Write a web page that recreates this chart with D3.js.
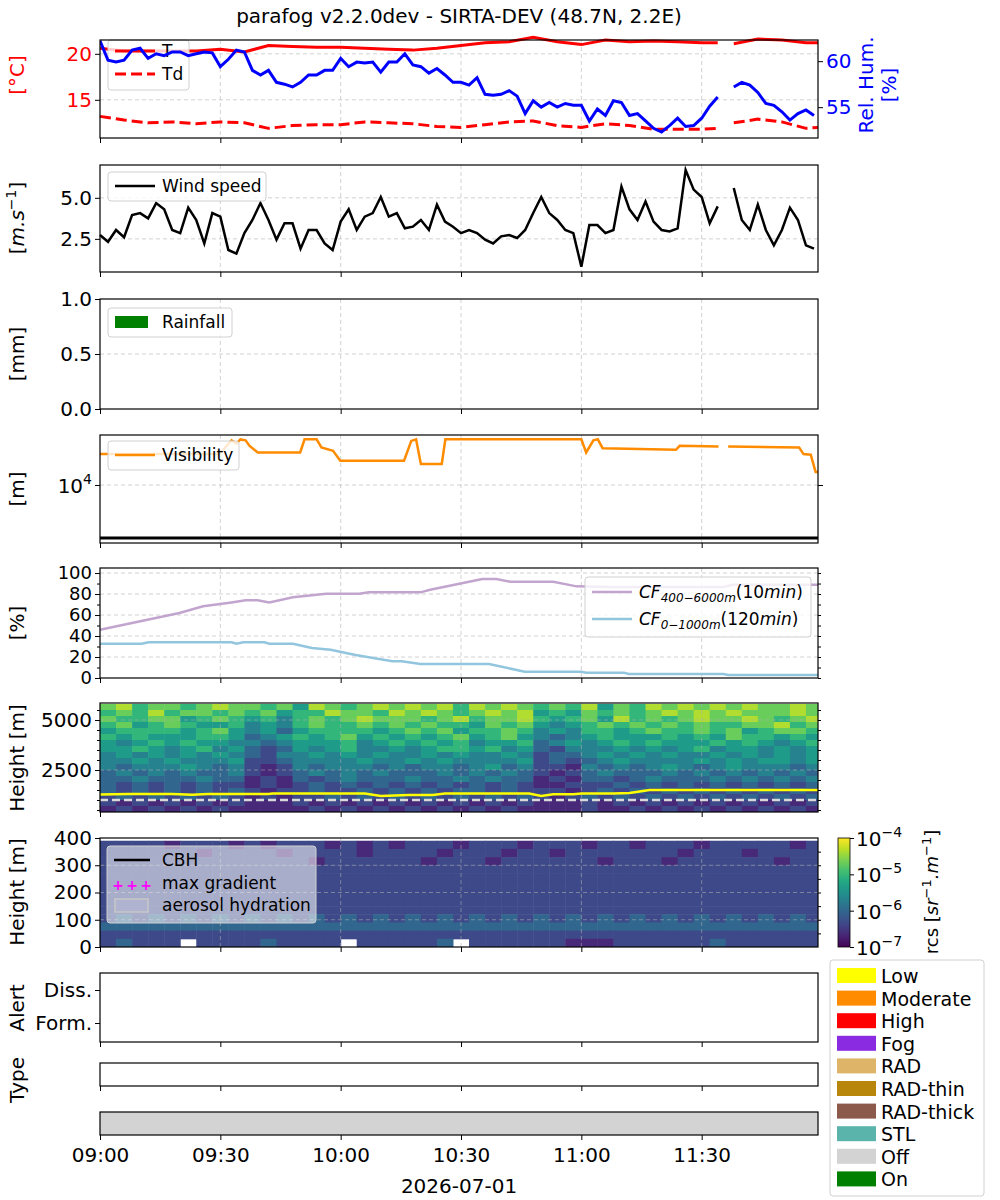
<!DOCTYPE html>
<html>
<head>
<meta charset="utf-8">
<script src="https://cdn.jsdelivr.net/npm/d3@7"></script>
<style>
  body { margin: 0; background: #fff; }
  text { font-family: "DejaVu Sans", sans-serif; }
</style>
</head>
<body>
<div id="chart"></div>
<script>
// time in minutes after 09:00
var tT = [0,6,12,18,24,30,36,42,48,54,60,66,72,78,84,90,96,102,108,114,120,126,132,138,144,150,154,156,158,164,170,176,179];
var temp = [20.6,20.3,20.3,20.3,20.3,20.5,20.2,20.9,20.8,20.7,20.7,20.6,20.5,20.4,20.6,20.9,21.2,21.3,21.8,21.3,21.0,21.5,21.3,21.4,21.3,21.2,21.2,null,21.1,21.6,21.5,21.2,21.2];
var dew = [13.2,12.8,12.5,12.6,12.4,12.6,12.5,11.9,12.2,12.3,12.3,12.6,12.5,12.4,12.1,12.0,12.3,12.6,12.7,12.2,12.0,12.4,12.2,11.8,11.8,11.8,11.9,null,12.5,12.9,12.6,11.9,12.0];
// 2-min samples
var rh = [62.2,60.1,59.9,60.1,61.2,61.4,60.3,60.8,60.6,61.0,61.0,60.6,60.8,61.0,60.9,59.4,60.2,61.2,61.0,59.0,
  58.5,59.0,57.7,57.5,57.2,57.7,58.5,58.5,59.0,59.0,60.3,59.4,59.9,59.8,59.9,58.8,59.9,59.9,60.8,59.6,
  59.4,58.7,59.2,58.5,57.7,57.7,57.4,58.2,56.4,56.3,56.4,56.8,56.2,54.3,55.7,55.0,55.5,55.0,55.4,55.2,
  55.2,53.5,54.8,54.1,55.7,55.5,54.1,54.3,53.5,52.7,52.3,53.0,53.8,52.9,53.0,53.8,55.1,56.1,null,57.2,
  57.7,57.4,56.6,55.4,55.2,54.5,53.6,54.3,54.7,54.1];
var wind = [2.73,2.32,3.04,2.6,3.95,4.07,3.75,4.68,4.3,3.04,2.85,4.4,3.65,2.22,4.07,3.85,1.82,1.6,2.85,3.65,
  4.68,3.65,2.45,3.45,3.45,1.9,3.04,3.04,2.22,1.82,3.55,4.3,3.04,3.85,4.07,5.05,3.85,4.07,3.14,3.24,
  3.65,3.04,4.58,3.55,3.24,2.85,3.04,2.85,2.45,2.22,2.65,2.73,2.55,3.04,4.07,5.05,4.07,3.65,3.04,2.85,
  0.8,3.34,3.34,2.85,3.04,5.68,4.3,3.65,4.78,3.55,3.04,2.95,3.14,6.7,5.5,5.05,3.45,4.48,null,5.6,
  3.65,3.04,4.58,3.04,2.1,3.04,4.4,3.65,2.1,1.9];
var tVis = [0,29.8,32.8,34,35,36.3,37.3,39.3,49.9,51,54,55.2,58.1,59.9,75.8,77.6,78.8,80,85.2,86.1,120,121.2,123,124.1,125.3,143.6,144.5,154.2,155.4,156.6,174.3,175.4,177.2,178.4,179];
var vis = [38300,38300,69700,60400,72400,69700,54700,41000,41000,72800,72800,51000,44200,28700,28700,67900,72800,24900,24900,72800,72800,41000,69700,72800,49400,46100,54700,53100,null,53100,51000,38300,37200,17600,17600];
var tCF1 = [0,19.8,25.7,32.8,36.3,39.3,42.2,48.1,56.4,58.7,64.6,67,79.9,82.3,90.5,95.3,98.8,102.3,113,118.8,127,155.4,157.7,179];
var cf1 = [46,61.9,68.3,72,74,74,72,77,80.3,80.3,80.3,81.6,81.6,84,90.5,94.3,94.3,91.7,91.7,87.3,86.7,86.7,88.9,88.9];
var tCF2 = [0,10.4,12.1,32.8,34,35.7,41,42.2,48.1,52.8,57.5,63.4,68.1,72.9,75.2,79.9,97,105.9,120,121.2,130.6,131.8,155.4,156.6,179];
var cf2 = [32.7,32.7,34,34,32.7,34,34,32.7,32.7,28.6,27,22.2,19,15.9,15.9,13.3,13.3,6,6,5.1,5.1,3.8,3.8,2.9,2.9];
var tCBH = [0,7,18,23,27,42,43,66,70,77,83,86,107,110,113,118,120,128,132,137,150,156,166,179];
var cbh = [1270,1300,1300,1260,1300,1300,1320,1320,1200,1250,1250,1320,1320,1200,1290,1290,1320,1320,1350,1500,1500,1500,1500,1500];
// backscatter levels (log10 rcs = -7 + 0.33*d, 0 = missing), 4-min columns
var rcsUpper = [ // rows 5500-5800 down to 400-700 (300 m bins)
  "786776787 767587678 787868787 676857687 878787787",
  "676867767 675668776 878767878 565767678 787877787",
  "766775676 564676787 776786778 656758676 787787678",
  "675676556 454676676 767665767 545676767 676677867",
  "566665675 453566665 676756676 454665676 676756776",
  "656555665 345656756 565675675 434565556 565766565",
  "545656554 434555645 656564556 345456565 556565456",
  "556545645 323545644 545665645 324445454 564554545",
  "454545454 324454545 445454454 233454545 445454545",
  "445454445 223444454 454544445 232345444 454545545",
  "434445434 212434443 434434534 221434345 434544434",
  "343434334 212343434 333434343 212343334 343434343",
  "334333433 121323433 343343433 121332343 334343434",
  "323232322 121232323 232323232 112223232 323232323",
  "323232323 212232232 323233232 221232323 232323232",
  "232323232 121223232 323232323 212323232 323232323",
  "212121212 111212121 212121212 111212121 212121212",
  "121212121 111121212 121212121 111211212 121212121"
];
var rcsLower = [ // rows 360-390 down to 0-30 (30 m bins)
  "222212221 212221212 122212221 222122122 212222212",
  "222222122 221222212 222122212 212222222 122212222",
  "222222222 222212222 221222122 222212221 222222122",
  "222222222 222222222 222222222 222222222 222222222",
  "222222222 222222222 222222222 222222222 222222222",
  "222222222 222222222 222222222 222222222 222222222",
  "222222222 222222222 222222222 222222222 222222222",
  "222222222 222222222 222222222 222222222 222222222",
  "222222222 222222222 222222222 222222222 222222222",
  "232323232 323232323 232323232 323232323 232323232",
  "333333333 333333333 333333333 333333333 333333333",
  "222222222 222222222 222222222 222222222 222222222",
  "232220222 232222022 222302222 221112222 223222222"
];
var xTicks = [0,30,60,90,120,150];
var xTickLabels = ["09:00","09:30","10:00","10:30","11:00","11:30"];
var legendNames = ["Low","Moderate","High","Fog","RAD","RAD-thin","RAD-thick","STL","Off","On"];
var legendColors = ["#ffff00","#ff8c00","#ff0000","#8a2be2","#deb568","#b8860b","#8b5a4b","#5ab4ac","#d3d3d3","#008000"];

var width = 1000, height = 1200;
var svg = d3.select("#chart").append("svg").attr("width", width).attr("height", height);
var x = d3.scaleLinear().domain([0, 179]).range([100, 818]);
var FS = 20, LFS = 17;

function frame(y0, y1, grid) {
  var g = svg.append("g");
  if (grid) {
    g.selectAll("line.gx").data(xTicks.slice(1)).enter().append("line")
      .attr("x1", function(d) { return x(d); }).attr("x2", function(d) { return x(d); })
      .attr("y1", y0).attr("y2", y1)
      .attr("stroke", "#b0b0b0").attr("stroke-width", 0.8).attr("stroke-dasharray", "4,3").attr("opacity", 0.7);
  }
  var ax = d3.axisBottom(x).tickValues(xTicks).tickSize(5).tickFormat("");
  svg.append("g").attr("transform", "translate(0," + y1 + ")").call(ax).call(clean);
  return g;
}
function border(y0, y1) {
  svg.append("rect").attr("x", 100).attr("y", y0).attr("width", 718).attr("height", y1 - y0)
    .attr("fill", "none").attr("stroke", "#000").attr("stroke-width", 1.2);
}
function clean(sel) {
  sel.select(".domain").remove();
  sel.selectAll("text").attr("font-size", FS).attr("font-family", "DejaVu Sans").attr("fill", "#000");
  sel.selectAll("line").attr("stroke", "#000");
}
function hgrid(g, y, vals) {
  g.selectAll(null).data(vals).enter().append("line")
    .attr("x1", 100).attr("x2", 818).attr("y1", function(d) { return y(d); }).attr("y2", function(d) { return y(d); })
    .attr("stroke", "#b0b0b0").attr("stroke-width", 0.8).attr("stroke-dasharray", "4,3").attr("opacity", 0.7);
}
function ylabel(txt, yc, xc, color) {
  return svg.append("text").attr("transform", "translate(" + xc + "," + yc + ") rotate(-90)")
    .attr("text-anchor", "middle").attr("font-size", FS).attr("fill", color || "#000").text(txt);
}
function legendBox(x0, y0, w, h, bg) {
  svg.append("rect").attr("x", x0).attr("y", y0).attr("width", w).attr("height", h).attr("rx", 3)
    .attr("fill", bg || "#fff").attr("fill-opacity", bg ? 0.55 : 0.8).attr("stroke", "#d0d0d0");
}
function mkLine(xv, yv, xs, ys) {
  var pts = xv.map(function(t, i) { return [t, yv[i]]; });
  return d3.line().defined(function(d) { return d[1] != null; })
    .x(function(d) { return xs(d[0]); }).y(function(d) { return ys(d[1]); })(pts);
}
var t2 = rh.map(function(d, i) { return i * 2; });

// title
svg.append("text").attr("x", 459).attr("y", 23).attr("text-anchor", "middle").attr("font-size", FS)
  .text("parafog v2.2.0dev - SIRTA-DEV (48.7N, 2.2E)");

// ---- panel 1: T / Td / RH
var p1 = [40, 138];
var yT = d3.scaleLinear().domain([10.85, 21.5]).range([p1[1], p1[0]]);
var yRH = d3.scaleLinear().domain([51.65, 62.3]).range([p1[1], p1[0]]);
var g1 = frame(p1[0], p1[1], true);
hgrid(g1, yT, [15, 20]);
svg.append("defs").append("clipPath").attr("id", "c1").append("rect").attr("x", 100).attr("y", p1[0]).attr("width", 718).attr("height", p1[1] - p1[0]);
svg.append("path").attr("d", mkLine(tT, temp, x, yT)).attr("fill", "none").attr("stroke", "#ff0000").attr("stroke-width", 3);
svg.append("path").attr("d", mkLine(tT, dew, x, yT)).attr("fill", "none").attr("stroke", "#ff0000").attr("stroke-width", 3).attr("stroke-dasharray", "11,5");
legendBox(108, 40, 81, 50);
svg.append("line").attr("x1", 115).attr("x2", 155).attr("y1", 51).attr("y2", 51).attr("stroke", "#ff0000").attr("stroke-width", 3);
svg.append("text").attr("x", 162).attr("y", 57).attr("font-size", LFS).text("T");
svg.append("line").attr("x1", 115).attr("x2", 155).attr("y1", 74).attr("y2", 74).attr("stroke", "#ff0000").attr("stroke-width", 3).attr("stroke-dasharray", "11,5");
svg.append("text").attr("x", 162).attr("y", 80).attr("font-size", LFS).text("Td");
svg.append("path").attr("d", mkLine(t2, rh, x, yRH)).attr("fill", "none").attr("stroke", "#0000ff").attr("stroke-width", 3).attr("clip-path", "url(#c1)");
svg.append("g").attr("transform", "translate(100,0)").call(d3.axisLeft(yT).tickValues([15, 20]).tickSize(5)).call(clean)
  .selectAll("text").attr("fill", "#ff0000");
svg.append("g").attr("transform", "translate(818,0)").call(d3.axisRight(yRH).tickValues([55, 60]).tickSize(5)).call(clean)
  .selectAll("text").attr("fill", "#0000ff");
border(p1[0], p1[1]);
ylabel("[°C]", 75, 24, "#ff0000");
ylabel("Rel. Hum.", 85, 873, "#0000ff");
ylabel("[%]", 85, 896, "#0000ff");

// ---- panel 2: wind
var p2 = [165, 272];
var yW = d3.scaleLinear().domain([0.48, 7.0]).range([p2[1], p2[0]]);
var g2 = frame(p2[0], p2[1], true);
hgrid(g2, yW, [2.5, 5.0]);
svg.append("path").attr("d", mkLine(t2, wind, x, yW)).attr("fill", "none").attr("stroke", "#000").attr("stroke-width", 2.5);
svg.append("g").attr("transform", "translate(100,0)").call(d3.axisLeft(yW).tickValues([2.5, 5.0]).tickFormat(d3.format(".1f")).tickSize(5)).call(clean);
border(p2[0], p2[1]);
legendBox(108, 172, 158, 29);
svg.append("line").attr("x1", 115).attr("x2", 155).attr("y1", 186).attr("y2", 186).attr("stroke", "#000").attr("stroke-width", 2.5);
svg.append("text").attr("x", 162).attr("y", 192).attr("font-size", LFS).text("Wind speed");
var wl = ylabel("", 218, 24);
wl.append("tspan").text("[");
wl.append("tspan").attr("font-style", "italic").text("m.s");
wl.append("tspan").attr("font-size", 14).attr("dy", -8).text("−1");
wl.append("tspan").attr("dy", 8).text("]");

// ---- panel 3: rain
var p3 = [299, 409];
var yR = d3.scaleLinear().domain([0, 1]).range([p3[1], p3[0]]);
var g3 = frame(p3[0], p3[1], true);
hgrid(g3, yR, [0.5]);
svg.append("g").attr("transform", "translate(100,0)").call(d3.axisLeft(yR).tickValues([0, 0.5, 1]).tickFormat(d3.format(".1f")).tickSize(5)).call(clean);
border(p3[0], p3[1]);
legendBox(108, 308, 124, 29);
svg.append("rect").attr("x", 115).attr("y", 316).attr("width", 33).attr("height", 12).attr("fill", "#008000");
svg.append("text").attr("x", 162).attr("y", 328).attr("font-size", LFS).text("Rainfall");
ylabel("[mm]", 354, 24);

// ---- panel 4: visibility
var p4 = [435, 543];
var yV = d3.scaleLog().domain([805, 87700]).range([p4[1], p4[0]]);
var g4 = frame(p4[0], p4[1], true);
hgrid(g4, yV, [10000]);
svg.append("line").attr("x1", 100).attr("x2", 818).attr("y1", yV(1000)).attr("y2", yV(1000)).attr("stroke", "#000").attr("stroke-width", 3);
svg.append("path").attr("d", mkLine(tVis, vis, x, yV)).attr("fill", "none").attr("stroke", "#ff8c00").attr("stroke-width", 2.5);
svg.append("g").attr("transform", "translate(100,0)").call(d3.axisLeft(yV).tickValues([10000]).tickFormat("").tickSize(5)).call(clean);
svg.append("g").attr("transform", "translate(818,0)").call(d3.axisRight(yV).tickValues([10000]).tickFormat("").tickSize(5)).call(clean);
var vt = svg.append("text").attr("x", 92).attr("y", yV(10000) + 8).attr("text-anchor", "end").attr("font-size", FS);
vt.append("tspan").text("10");
vt.append("tspan").attr("font-size", 14).attr("dy", -9).text("4");
border(p4[0], p4[1]);
legendBox(108, 441, 131, 29);
svg.append("line").attr("x1", 115).attr("x2", 155).attr("y1", 455).attr("y2", 455).attr("stroke", "#ff8c00").attr("stroke-width", 2.5);
svg.append("text").attr("x", 162).attr("y", 461).attr("font-size", LFS).text("Visibility");
ylabel("[m]", 489, 24);

// ---- panel 5: cloud fraction
var p5 = [568, 678];
var yC = d3.scaleLinear().domain([0, 104.8]).range([p5[1], p5[0]]);
var g5 = frame(p5[0], p5[1], true);
hgrid(g5, yC, [20, 40, 60, 80, 100]);
svg.append("path").attr("d", mkLine(tCF1, cf1, x, yC)).attr("fill", "none").attr("stroke", "#c2a5cf").attr("stroke-width", 2.5);
svg.append("path").attr("d", mkLine(tCF2, cf2, x, yC)).attr("fill", "none").attr("stroke", "#92c5de").attr("stroke-width", 2.5);
svg.append("g").attr("transform", "translate(100,0)").call(d3.axisLeft(yC).tickValues([0, 20, 40, 60, 80, 100]).tickSize(5)).call(clean)
  .selectAll("text").attr("font-size", 18);
svg.append("g").attr("transform", "translate(100,0)").call(d3.axisLeft(yC).tickValues([10, 30, 50, 70, 90]).tickFormat("").tickSize(3)).call(clean);
svg.append("g").attr("transform", "translate(818,0)").call(d3.axisRight(yC).tickValues([0, 10, 20, 30, 40, 50, 60, 70, 80, 90, 100]).tickFormat("").tickSize(3)).call(clean);
border(p5[0], p5[1]);
legendBox(585, 577, 226, 60);
function cfLabel(y, sub, win, color) {
  svg.append("line").attr("x1", 592).attr("x2", 632).attr("y1", y - 6).attr("y2", y - 6).attr("stroke", color).attr("stroke-width", 2.5);
  var t = svg.append("text").attr("x", 639).attr("y", y).attr("font-size", LFS);
  t.append("tspan").attr("font-style", "italic").text("CF");
  t.append("tspan").attr("font-style", "italic").attr("font-size", 12).attr("dy", 4).text(sub);
  t.append("tspan").attr("dy", -4).text("(" + win);
  t.append("tspan").attr("font-style", "italic").text("min");
  t.append("tspan").text(")");
}
cfLabel(598, "400−6000m", "10", "#c2a5cf");
cfLabel(625, "0−1000m", "120", "#92c5de");
ylabel("[%]", 623, 24);

// ---- heatmap helpers
var cScale = d3.scaleSequentialLog(d3.interpolateViridis).domain([1e-7, 1e-4]);
function drawCells(rows, yScale, topVal, step, clipId) {
  var cells = [];
  rows.forEach(function(r, ri) {
    var s = r.replace(/ /g, "");
    s.split("").forEach(function(ch, ci) {
      var d = +ch;
      if (d > 0) cells.push({ c: ci, hTop: topVal - ri * step, v: Math.pow(10, -7 + 0.33 * d) });
    });
  });
  svg.append("g").attr("clip-path", "url(#" + clipId + ")").selectAll("rect").data(cells).enter().append("rect")
    .attr("x", function(d) { return x(d.c * 4); })
    .attr("width", function(d) { return x(d.c * 4 + 4) - x(d.c * 4) + 0.5; })
    .attr("y", function(d) { return yScale(d.hTop); })
    .attr("height", function(d) { return yScale(d.hTop - step) - yScale(d.hTop) + 0.5; })
    .attr("fill", function(d) { return cScale(d.v); });
}

// ---- panel 6: upper backscatter
var p6 = [703, 812];
var yH = d3.scaleLinear().domain([400, 5850]).range([p6[1], p6[0]]);
svg.select("defs").append("clipPath").attr("id", "c6").append("rect").attr("x", 100).attr("y", p6[0]).attr("width", 718).attr("height", p6[1] - p6[0]);
drawCells(rcsUpper, yH, 5800, 300, "c6");
var g6 = frame(p6[0], p6[1], true);
hgrid(g6, yH, [2500, 5000]);
svg.append("line").attr("x1", 100).attr("x2", 818).attr("y1", yH(1000)).attr("y2", yH(1000)).attr("stroke", "#d8d8d8").attr("stroke-width", 2.5).attr("stroke-dasharray", "8,4");
svg.append("path").attr("d", mkLine(tCBH, cbh, x, yH)).attr("fill", "none").attr("stroke", "#ffff00").attr("stroke-width", 2.5);
svg.append("g").attr("transform", "translate(100,0)").call(d3.axisLeft(yH).tickValues([2500, 5000]).tickFormat(d3.format("d")).tickSize(5)).call(clean);
var minorH = [500, 1000, 1500, 2000, 3000, 3500, 4000, 4500, 5500];
svg.append("g").attr("transform", "translate(100,0)").call(d3.axisLeft(yH).tickValues(minorH).tickFormat("").tickSize(3)).call(clean);
svg.append("g").attr("transform", "translate(818,0)").call(d3.axisRight(yH).tickValues(minorH.concat([2500, 5000])).tickFormat("").tickSize(3)).call(clean);
border(p6[0], p6[1]);
ylabel("Height [m]", 758, 24);

// ---- panel 7: lower backscatter
var p7 = [838, 947];
var yL = d3.scaleLinear().domain([0, 400]).range([p7[1], p7[0]]);
svg.select("defs").append("clipPath").attr("id", "c7").append("rect").attr("x", 100).attr("y", p7[0]).attr("width", 718).attr("height", p7[1] - p7[0]);
drawCells(rcsLower, yL, 390, 30, "c7");
var g7 = frame(p7[0], p7[1], true);
hgrid(g7, yL, [100, 200, 300]);
svg.append("g").attr("transform", "translate(100,0)").call(d3.axisLeft(yL).tickValues([0, 100, 200, 300, 400]).tickSize(5)).call(clean);
svg.append("g").attr("transform", "translate(818,0)").call(d3.axisRight(yL).tickValues([50, 100, 150, 200, 250, 300, 350]).tickFormat("").tickSize(3)).call(clean);
border(p7[0], p7[1]);
legendBox(107, 846, 209, 77, "#ffffff");
svg.append("line").attr("x1", 114).attr("x2", 150).attr("y1", 860).attr("y2", 860).attr("stroke", "#000").attr("stroke-width", 2.5);
svg.append("text").attr("x", 162).attr("y", 866).attr("font-size", LFS).attr("fill", "#000").text("CBH");
[118, 132, 146].forEach(function(px) {
  svg.append("text").attr("x", px).attr("y", 890).attr("text-anchor", "middle").attr("font-size", 14).attr("font-weight", "bold").attr("fill", "#ff00ff").text("+");
});
svg.append("text").attr("x", 162).attr("y", 889).attr("font-size", LFS).text("max gradient");
svg.append("rect").attr("x", 115).attr("y", 899).attr("width", 33).attr("height", 13).attr("fill", "#b8bcd8").attr("fill-opacity", 0.4).attr("stroke", "#c8c8c8").attr("stroke-width", 1.5);
svg.append("text").attr("x", 162).attr("y", 911).attr("font-size", LFS).text("aerosol hydration");
ylabel("Height [m]", 892, 24);

// colorbar
var grad = svg.select("defs").append("linearGradient").attr("id", "vir").attr("x1", 0).attr("x2", 0).attr("y1", 1).attr("y2", 0);
d3.range(0, 1.01, 0.1).forEach(function(o) {
  grad.append("stop").attr("offset", o).attr("stop-color", d3.interpolateViridis(o));
});
svg.append("rect").attr("x", 838).attr("y", 838).attr("width", 12).attr("height", 109).attr("fill", "url(#vir)").attr("stroke", "#000").attr("stroke-width", 0.8);
var yCb = d3.scaleLog().domain([1e-7, 1e-4]).range([947, 838]);
svg.append("g").attr("transform", "translate(850,0)").call(d3.axisRight(yCb).tickValues([1e-7, 1e-6, 1e-5, 1e-4]).tickFormat("").tickSize(4)).call(clean);
[-7, -6, -5, -4].forEach(function(e) {
  var t = svg.append("text").attr("x", 856).attr("y", yCb(Math.pow(10, e)) + 8).attr("font-size", FS);
  t.append("tspan").text("10");
  t.append("tspan").attr("font-size", 14).attr("dy", -9).text("−" + (-e));
});
var cl = ylabel("", 892, 938);
cl.attr("font-size", 18);
cl.append("tspan").text("rcs [");
cl.append("tspan").attr("font-style", "italic").text("sr");
cl.append("tspan").attr("font-size", 13).attr("dy", -7).text("−1");
cl.append("tspan").attr("dy", 7).attr("font-style", "italic").text(".m");
cl.append("tspan").attr("font-size", 13).attr("dy", -7).text("−1");
cl.append("tspan").attr("dy", 7).text("]");

// ---- panel 8: alert
var p8 = [973, 1042];
frame(p8[0], p8[1], false);
svg.append("g").attr("transform", "translate(100,0)")
  .call(d3.axisLeft(d3.scalePoint().domain(["Diss.", "Form."]).range([990, 1023])).tickSize(5)).call(clean);
border(p8[0], p8[1]);
ylabel("Alert", 1008, 24);

// ---- panel 9: type
var p9 = [1063, 1086];
frame(p9[0], p9[1], false);
border(p9[0], p9[1]);
ylabel("Type", 1080, 24);

// ---- panel 10: status
var p10 = [1112, 1135];
svg.append("rect").attr("x", 100).attr("y", p10[0]).attr("width", 718).attr("height", p10[1] - p10[0]).attr("fill", "#d3d3d3");
var xa = d3.axisBottom(x).tickValues(xTicks).tickSize(5).tickFormat(function(d, i) { return xTickLabels[i]; });
svg.append("g").attr("transform", "translate(0," + p10[1] + ")").call(xa).call(clean).selectAll("text").attr("dy", "0.95em");
border(p10[0], p10[1]);
svg.append("text").attr("x", 459).attr("y", 1193).attr("text-anchor", "middle").attr("font-size", FS).text("2026-07-01");

// ---- category legend
svg.append("rect").attr("x", 830).attr("y", 960).attr("width", 154).attr("height", 236).attr("rx", 3)
  .attr("fill", "#fff").attr("stroke", "#d0d0d0");
legendNames.forEach(function(n, i) {
  var yy = 968 + i * 22.6;
  svg.append("rect").attr("x", 837).attr("y", yy).attr("width", 39).attr("height", 15).attr("fill", legendColors[i]);
  svg.append("text").attr("x", 881).attr("y", yy + 15).attr("font-size", 19).text(n);
});
</script>
</body>
</html>
